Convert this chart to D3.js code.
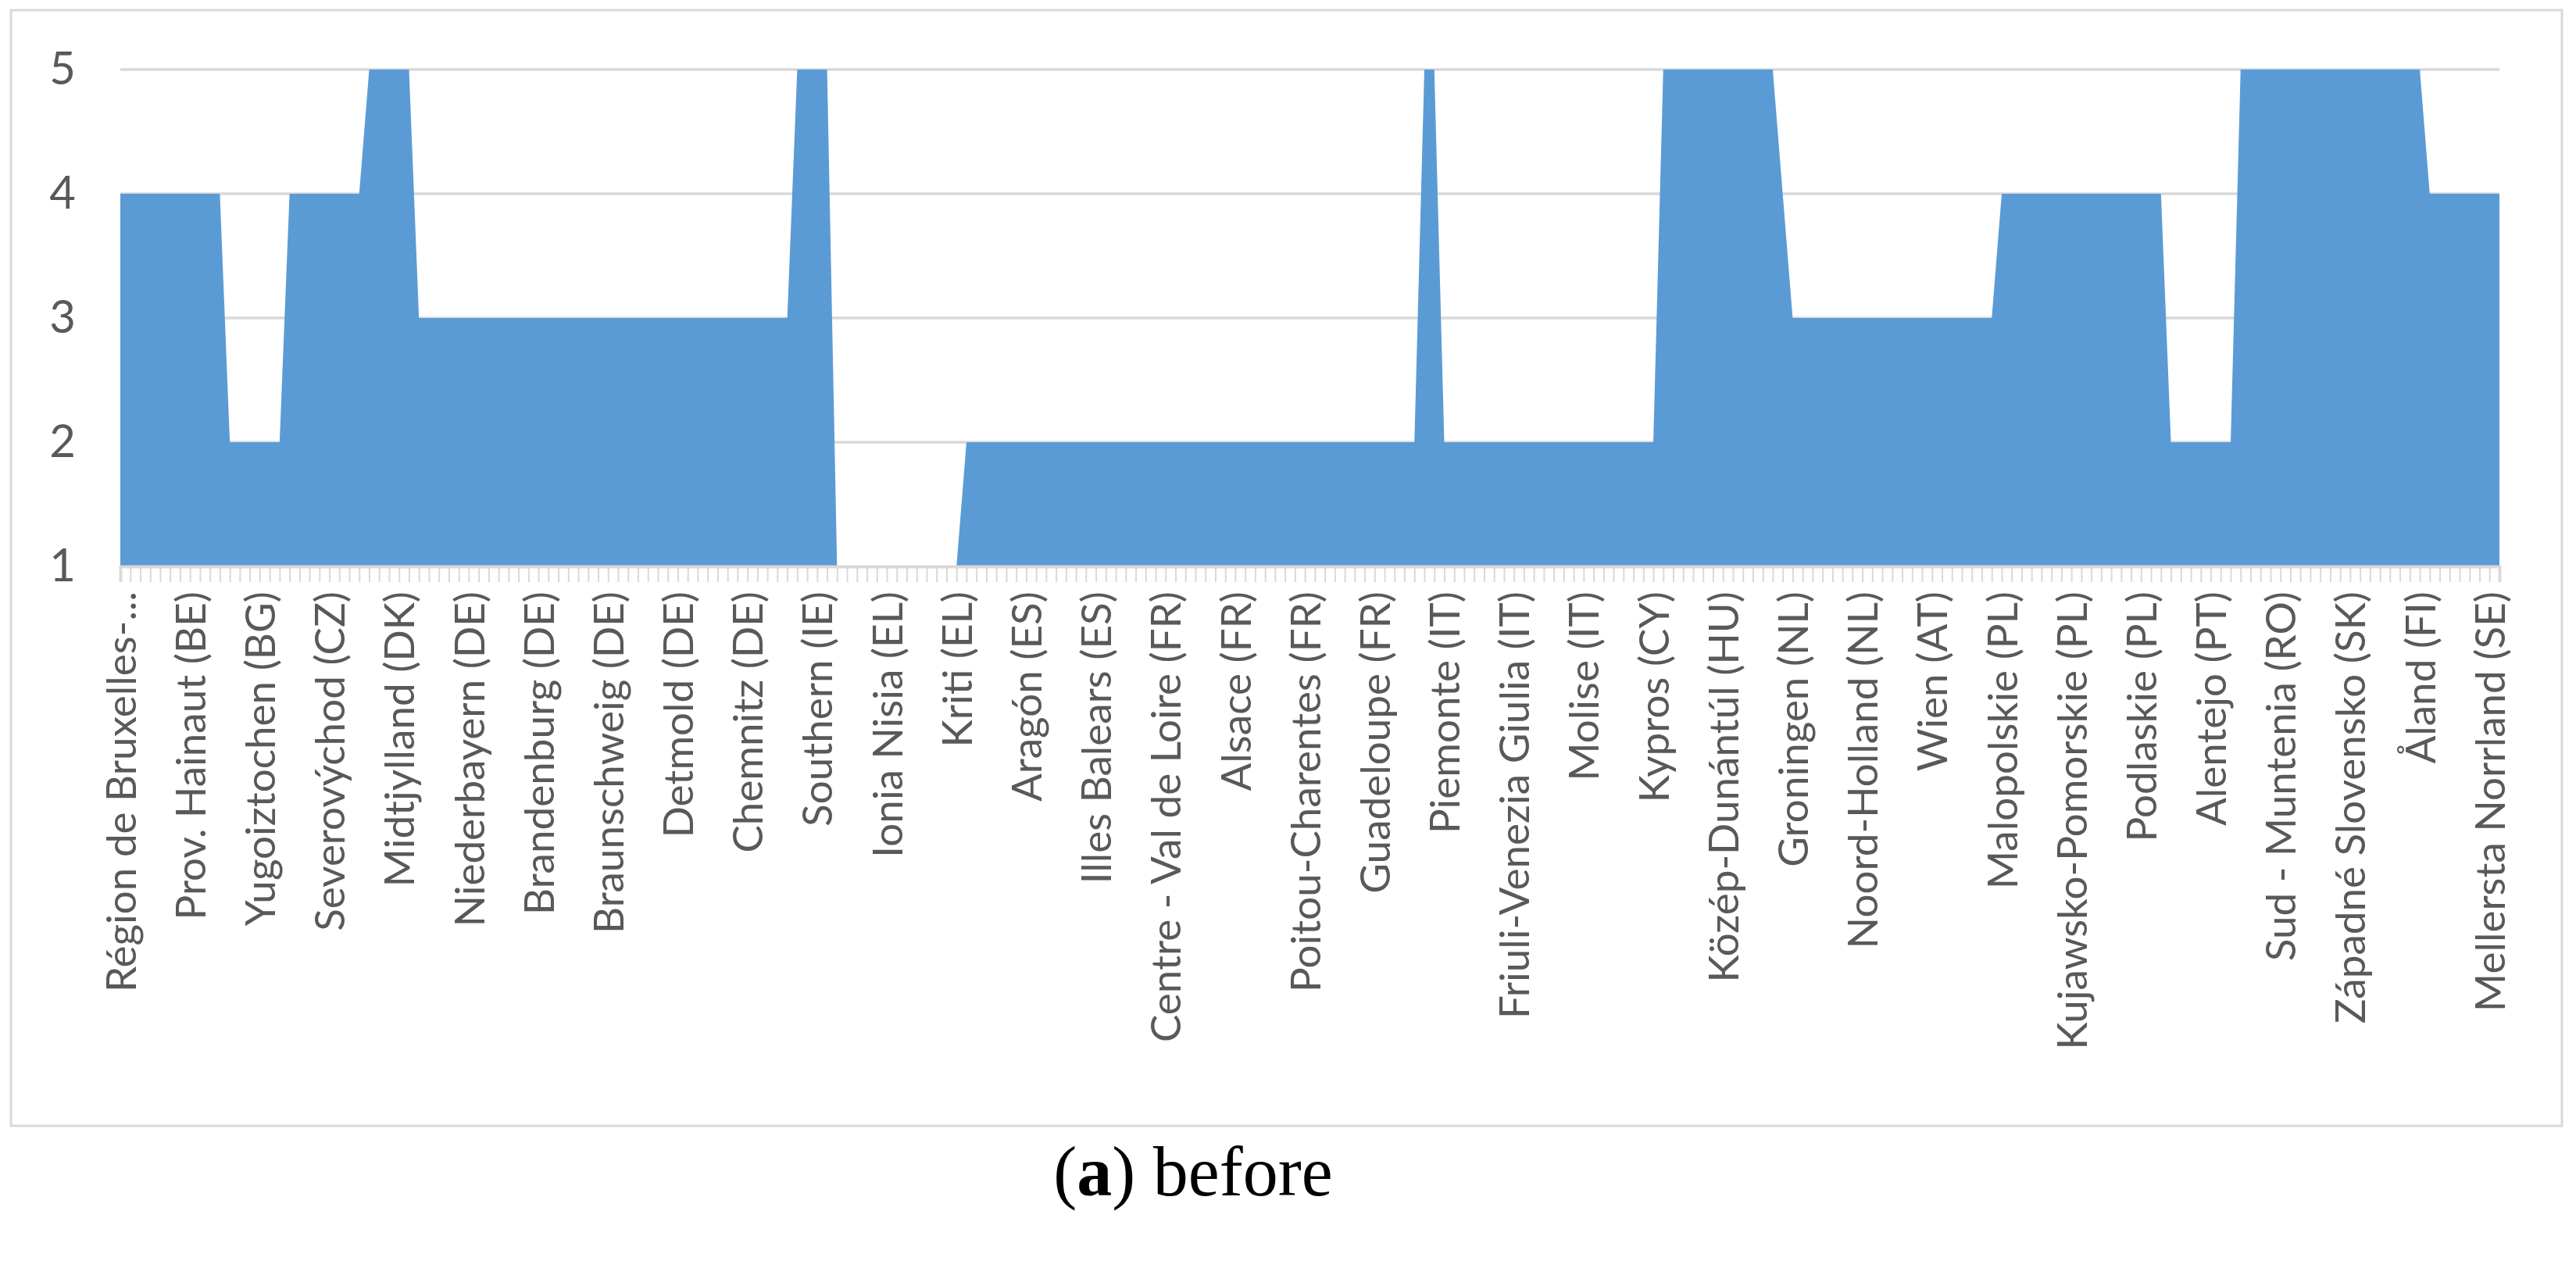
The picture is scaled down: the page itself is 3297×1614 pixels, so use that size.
<!DOCTYPE html>
<html>
<head>
<meta charset="utf-8">
<script src="https://cdn.jsdelivr.net/npm/d3@7"></script>
<style>
  html, body { margin: 0; padding: 0; background: #ffffff; }
  svg { display: block; }
</style>
</head>
<body>
<script>
// ---------- DATA ----------
const categories = [
  "Région de Bruxelles-Capitale/Brussels Hoofdstedelijk Gewest (BE)", "Prov. Antwerpen (BE)", "Prov. Limburg (BE)", "Prov. Oost-Vlaanderen (BE)", "Prov. Vlaams-Brabant (BE)", "Prov. West-Vlaanderen (BE)", "Prov. Brabant Wallon (BE)", "Prov. Hainaut (BE)", "Prov. Liège (BE)", "Prov. Luxembourg (BE)", "Prov. Namur (BE)",
  "Severozapaden (BG)", "Severen tsentralen (BG)", "Severoiztochen (BG)", "Yugoiztochen (BG)", "Yugozapaden (BG)", "Yuzhen tsentralen (BG)",
  "Praha (CZ)", "Strední Cechy (CZ)", "Jihozápad (CZ)", "Severozápad (CZ)", "Severovýchod (CZ)", "Jihovýchod (CZ)", "Strední Morava (CZ)", "Moravskoslezsko (CZ)",
  "Hovedstaden (DK)", "Sjælland (DK)", "Syddanmark (DK)", "Midtjylland (DK)", "Nordjylland (DK)",
  "Stuttgart (DE)", "Karlsruhe (DE)", "Freiburg (DE)", "Tübingen (DE)", "Oberbayern (DE)", "Niederbayern (DE)", "Oberpfalz (DE)", "Oberfranken (DE)", "Mittelfranken (DE)", "Unterfranken (DE)", "Schwaben (DE)", "Berlin (DE)", "Brandenburg (DE)", "Bremen (DE)", "Hamburg (DE)", "Darmstadt (DE)", "Gießen (DE)", "Kassel (DE)", "Mecklenburg-Vorpommern (DE)", "Braunschweig (DE)", "Hannover (DE)", "Lüneburg (DE)", "Weser-Ems (DE)", "Düsseldorf (DE)", "Köln (DE)", "Münster (DE)", "Detmold (DE)", "Arnsberg (DE)", "Koblenz (DE)", "Trier (DE)", "Rheinhessen-Pfalz (DE)", "Saarland (DE)", "Dresden (DE)", "Chemnitz (DE)", "Leipzig (DE)", "Sachsen-Anhalt (DE)", "Schleswig-Holstein (DE)", "Thüringen (DE)",
  "Eesti (EE)",
  "Northern and Western (IE)", "Southern (IE)", "Eastern and Midland (IE)",
  "Anatoliki Makedonia, Thraki (EL)", "Kentriki Makedonia (EL)", "Dytiki Makedonia (EL)", "Thessalia (EL)", "Ipeiros (EL)", "Ionia Nisia (EL)", "Dytiki Ellada (EL)", "Sterea Ellada (EL)", "Peloponnisos (EL)", "Attiki (EL)", "Voreio Aigaio (EL)", "Notio Aigaio (EL)", "Kriti (EL)",
  "Galicia (ES)", "Principado de Asturias (ES)", "Cantabria (ES)", "País Vasco (ES)", "Comunidad Foral de Navarra (ES)", "La Rioja (ES)", "Aragón (ES)", "Comunidad de Madrid (ES)", "Castilla y León (ES)", "Castilla-La Mancha (ES)", "Extremadura (ES)", "Cataluña (ES)", "Comunitat Valenciana (ES)", "Illes Balears (ES)", "Andalucía (ES)", "Región de Murcia (ES)", "Ciudad Autónoma de Ceuta (ES)", "Ciudad Autónoma de Melilla (ES)", "Canarias (ES)",
  "Île de France (FR)", "Centre - Val de Loire (FR)", "Bourgogne (FR)", "Franche-Comté (FR)", "Basse-Normandie (FR)", "Haute-Normandie (FR)", "Nord-Pas de Calais (FR)", "Picardie (FR)", "Alsace (FR)", "Champagne-Ardenne (FR)", "Lorraine (FR)", "Pays de la Loire (FR)", "Bretagne (FR)", "Aquitaine (FR)", "Limousin (FR)", "Poitou-Charentes (FR)", "Languedoc-Roussillon (FR)", "Midi-Pyrénées (FR)", "Auvergne (FR)", "Rhône-Alpes (FR)", "Provence-Alpes-Côte d'Azur (FR)", "Corse (FR)", "Guadeloupe (FR)", "Martinique (FR)", "Guyane (FR)", "La Réunion (FR)", "Mayotte (FR)",
  "Jadranska Hrvatska (HR)", "Kontinentalna Hrvatska (HR)",
  "Piemonte (IT)", "Valle d'Aosta/Vallée d'Aoste (IT)", "Liguria (IT)", "Lombardia (IT)", "Provincia Autonoma di Bolzano/Bozen (IT)", "Provincia Autonoma di Trento (IT)", "Veneto (IT)", "Friuli-Venezia Giulia (IT)", "Emilia-Romagna (IT)", "Toscana (IT)", "Umbria (IT)", "Marche (IT)", "Lazio (IT)", "Abruzzo (IT)", "Molise (IT)", "Campania (IT)", "Puglia (IT)", "Basilicata (IT)", "Calabria (IT)", "Sicilia (IT)", "Sardegna (IT)",
  "Kypros (CY)", "Latvija (LV)", "Sostines regionas (LT)", "Vidurio ir vakaru Lietuvos regionas (LT)", "Luxembourg (LU)",
  "Budapest (HU)", "Pest (HU)", "Közép-Dunántúl (HU)", "Nyugat-Dunántúl (HU)", "Dél-Dunántúl (HU)", "Észak-Magyarország (HU)", "Észak-Alföld (HU)", "Dél-Alföld (HU)",
  "Malta (MT)",
  "Groningen (NL)", "Friesland (NL)", "Drenthe (NL)", "Overijssel (NL)", "Gelderland (NL)", "Flevoland (NL)", "Utrecht (NL)", "Noord-Holland (NL)", "Zuid-Holland (NL)", "Zeeland (NL)", "Noord-Brabant (NL)", "Limburg (NL)",
  "Burgenland (AT)", "Niederösterreich (AT)", "Wien (AT)", "Kärnten (AT)", "Steiermark (AT)", "Oberösterreich (AT)", "Salzburg (AT)", "Tirol (AT)", "Vorarlberg (AT)",
  "Malopolskie (PL)", "Slaskie (PL)", "Wielkopolskie (PL)", "Zachodniopomorskie (PL)", "Lubuskie (PL)", "Dolnoslaskie (PL)", "Opolskie (PL)", "Kujawsko-Pomorskie (PL)", "Warminsko-Mazurskie (PL)", "Pomorskie (PL)", "Lódzkie (PL)", "Swietokrzyskie (PL)", "Lubelskie (PL)", "Podkarpackie (PL)", "Podlaskie (PL)", "Warszawski stoleczny (PL)", "Mazowiecki regionalny (PL)",
  "Norte (PT)", "Algarve (PT)", "Centro (PT)", "Área Metropolitana de Lisboa (PT)", "Alentejo (PT)", "Região Autónoma dos Açores (PT)", "Região Autónoma da Madeira (PT)",
  "Nord-Vest (RO)", "Centru (RO)", "Nord-Est (RO)", "Sud-Est (RO)", "Sud - Muntenia (RO)", "Bucuresti - Ilfov (RO)", "Sud-Vest Oltenia (RO)", "Vest (RO)",
  "Vzhodna Slovenija (SI)", "Zahodna Slovenija (SI)",
  "Bratislavský kraj (SK)", "Západné Slovensko (SK)", "Stredné Slovensko (SK)", "Východné Slovensko (SK)",
  "Helsinki-Uusimaa (FI)", "Etelä-Suomi (FI)", "Länsi-Suomi (FI)", "Pohjois- ja Itä-Suomi (FI)", "Åland (FI)",
  "Stockholm (SE)", "Östra Mellansverige (SE)", "Småland med öarna (SE)", "Sydsverige (SE)", "Västsverige (SE)", "Norra Mellansverige (SE)", "Mellersta Norrland (SE)", "Övre Norrland (SE)"
];

const values = [
  4,4,4,4,4,4,4,4,4,4,4,            // BE
  2,2,2,2,2,2,                      // BG
  4,4,4,4,4,4,4,4,                  // CZ
  5,5,5,5,5,                        // DK
  3,3,3,3,3,3,3,3,3,3,3,3,3,3,3,3,3,3,3,3,3,3,3,3,3,3,3,3,3,3,3,3,3,3,3,3,3,3, // DE
  5,                                // EE
  5,5,5,                            // IE
  1,1,1,1,1,1,1,1,1,1,1,1,1,        // EL
  2,2,2,2,2,2,2,2,2,2,2,2,2,2,2,2,2,2,2, // ES
  2,2,2,2,2,2,2,2,2,2,2,2,2,2,2,2,2,2,2,2,2,2,2,2,2,2,2, // FR
  5,5,                              // HR
  2,2,2,2,2,2,2,2,2,2,2,2,2,2,2,2,2,2,2,2,2, // IT
  2,                                // CY
  5,                                // LV
  5,5,                              // LT
  5,                                // LU
  5,5,5,5,5,5,5,5,                  // HU
  4,                                // MT
  3,3,3,3,3,3,3,3,3,3,3,3,          // NL
  3,3,3,3,3,3,3,3,3,                // AT
  4,4,4,4,4,4,4,4,4,4,4,4,4,4,4,4,4, // PL
  2,2,2,2,2,2,2,                    // PT
  5,5,5,5,5,5,5,5,                  // RO
  5,5,                              // SI
  5,5,5,5,                          // SK
  5,5,5,5,5,                        // FI
  4,4,4,4,4,4,4,4                   // SE
];

const yTicks = [1, 2, 3, 4, 5];
const labelStep = 7;              // every 7th category carries a label
const captionLabel = "a";
const captionText = " before";

// ---------- LAYOUT ----------
const W = 3297, H = 1614;
const plot = { left: 154, right: 3199, top: 89, bottom: 725 };
const grey = "#d9d9d9";
const textGrey = "#595959";
const areaBlue = "#5b9bd5";

const svg = d3.select("body").append("svg")
  .attr("width", W).attr("height", H)
  .attr("viewBox", `0 0 ${W} ${H}`);

svg.append("rect").attr("width", W).attr("height", H).attr("fill", "#ffffff");

// chart frame
svg.append("rect")
  .attr("x", 14).attr("y", 13)
  .attr("width", 3265).attr("height", 1428)
  .attr("fill", "none").attr("stroke", grey).attr("stroke-width", 3);

const x = d3.scalePoint().domain(categories).range([plot.left, plot.right]);
const y = d3.scaleLinear().domain([1, 5]).range([plot.bottom, plot.top]);

const data = categories.map((c, i) => ({ c, v: values[i] }));

// gridlines
svg.append("g")
  .selectAll("line")
  .data(yTicks.filter(t => t > 1))
  .join("line")
  .attr("x1", plot.left).attr("x2", plot.right)
  .attr("y1", d => y(d)).attr("y2", d => y(d))
  .attr("stroke", grey).attr("stroke-width", 3.5);

// area
const area = d3.area()
  .x(d => x(d.c))
  .y0(y(1))
  .y1(d => y(d.v));

svg.append("path")
  .datum(data)
  .attr("d", area)
  .attr("fill", areaBlue);

// y axis labels
const yAxis = d3.axisLeft(y).tickValues(yTicks).tickSize(0).tickPadding(57).tickFormat(d3.format("d"));
const gy = svg.append("g").attr("transform", `translate(${plot.left},0)`).call(yAxis);
gy.select(".domain").remove();
gy.selectAll("text")
  .attr("font-family", "Lato, 'Open Sans', sans-serif")
  .attr("font-size", 58)
  .attr("fill", textGrey);

// x axis: ticks at every category
const xTickAxis = d3.axisBottom(x).tickSize(20).tickFormat("");
const gxt = svg.append("g").attr("transform", `translate(0,${plot.bottom})`).call(xTickAxis);
gxt.select(".domain").attr("stroke", grey).attr("stroke-width", 4);
gxt.selectAll(".tick line").attr("stroke", grey).attr("stroke-width", 2);

// x axis labels: every 7th category
const shorten = s => s.length > 30 ? s.slice(0, 20) + "..." : s;
const xLabelAxis = d3.axisBottom(x)
  .tickValues(categories.filter((c, i) => i % labelStep === 0))
  .tickSize(0)
  .tickFormat(shorten);
const gxl = svg.append("g").attr("transform", `translate(0,${plot.bottom})`).call(xLabelAxis);
gxl.select(".domain").remove();
gxl.selectAll("text")
  .attr("font-family", "Lato, 'Open Sans', sans-serif")
  .attr("font-size", 53)
  .attr("fill", textGrey)
  .attr("text-anchor", "end")
  .attr("transform", "rotate(-90)")
  .attr("x", -32)
  .attr("y", 0)
  .attr("dy", "0.36em");

// caption
const cap = svg.append("text")
  .attr("x", 1527).attr("y", 1530)
  .attr("text-anchor", "middle")
  .attr("font-family", "'Liberation Serif', 'DejaVu Serif', serif")
  .attr("font-size", 90)
  .attr("fill", "#000000");
cap.append("tspan").text("(");
cap.append("tspan").attr("font-weight", "bold").text(captionLabel);
cap.append("tspan").text(")" + captionText);
</script>
</body>
</html>
